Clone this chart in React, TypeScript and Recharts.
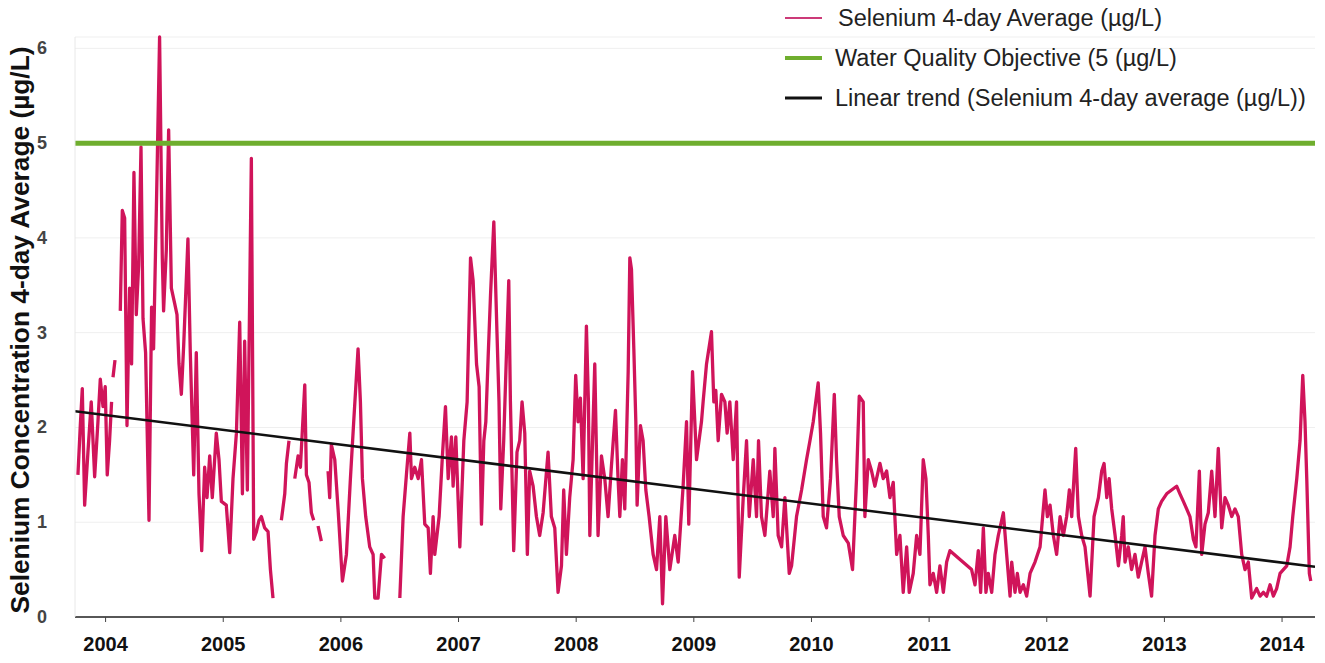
import { LineChart, Line, XAxis, YAxis, CartesianGrid, Legend } from 'recharts';

// 4-day average sample dates (decimal years), null values mark gaps in the record
const seleniumDates = [
	2003.765, 2003.785, 2003.802, 2003.822, 2003.85, 2003.878, 2003.907, 2003.935, 2003.955, 2003.978,
	2003.997, 2004.014, 2004.034, 2004.051, 2004.057, 2004.063, 2004.08, 2004.1, 2004.125, 2004.142,
	2004.162, 2004.182, 2004.204, 2004.221, 2004.241, 2004.261, 2004.281, 2004.301, 2004.318, 2004.34,
	2004.369, 2004.391, 2004.408, 2004.431, 2004.459, 2004.482, 2004.493, 2004.516, 2004.536, 2004.559,
	2004.587, 2004.607, 2004.624, 2004.644, 2004.664, 2004.7, 2004.72, 2004.749, 2004.771, 2004.794,
	2004.817, 2004.842, 2004.862, 2004.885, 2004.907, 2004.941, 2004.964, 2004.984, 2005.026, 2005.055,
	2005.083, 2005.112, 2005.14, 2005.163, 2005.182, 2005.205, 2005.239, 2005.259, 2005.282, 2005.304,
	2005.324, 2005.352, 2005.381, 2005.401, 2005.423, 2005.46, 2005.494, 2005.523, 2005.537, 2005.559,
	2005.585, 2005.608, 2005.636, 2005.656, 2005.693, 2005.707, 2005.729, 2005.749, 2005.769, 2005.79,
	2005.806, 2005.834, 2005.86, 2005.891, 2005.905, 2005.919, 2005.948, 2005.976, 2006.013, 2006.047,
	2006.081, 2006.109, 2006.146, 2006.166, 2006.183, 2006.211, 2006.245, 2006.274, 2006.288, 2006.316,
	2006.345, 2006.373, 2006.44, 2006.501, 2006.529, 2006.557, 2006.586, 2006.6, 2006.628, 2006.657,
	2006.685, 2006.713, 2006.742, 2006.761, 2006.784, 2006.798, 2006.835, 2006.863, 2006.889, 2006.912,
	2006.94, 2006.954, 2006.977, 2007.011, 2007.045, 2007.073, 2007.102, 2007.124, 2007.153, 2007.175,
	2007.195, 2007.215, 2007.232, 2007.252, 2007.272, 2007.3, 2007.327, 2007.344, 2007.359, 2007.384,
	2007.427, 2007.441, 2007.469, 2007.497, 2007.52, 2007.54, 2007.563, 2007.585, 2007.605, 2007.634,
	2007.662, 2007.69, 2007.719, 2007.761, 2007.789, 2007.818, 2007.846, 2007.875, 2007.894, 2007.917,
	2007.945, 2007.974, 2007.996, 2008.016, 2008.036, 2008.059, 2008.087, 2008.104, 2008.116, 2008.158,
	2008.186, 2008.215, 2008.243, 2008.271, 2008.3, 2008.334, 2008.356, 2008.371, 2008.393, 2008.413,
	2008.442, 2008.456, 2008.47, 2008.49, 2008.507, 2008.518, 2008.546, 2008.569, 2008.592, 2008.62,
	2008.654, 2008.683, 2008.711, 2008.734, 2008.762, 2008.796, 2008.838, 2008.867, 2008.909, 2008.938,
	2008.957, 2008.989, 2009.023, 2009.065, 2009.079, 2009.108, 2009.15, 2009.17, 2009.187, 2009.207,
	2009.235, 2009.264, 2009.283, 2009.306, 2009.335, 2009.363, 2009.386, 2009.42, 2009.448, 2009.471,
	2009.505, 2009.533, 2009.55, 2009.575, 2009.604, 2009.646, 2009.675, 2009.689, 2009.717, 2009.746,
	2009.774, 2009.811, 2009.831, 2009.873, 2009.916, 2009.958, 2009.987, 2010.015, 2010.057, 2010.077,
	2010.1, 2010.128, 2010.162, 2010.194, 2010.213, 2010.236, 2010.27, 2010.313, 2010.349, 2010.383,
	2010.406, 2010.44, 2010.454, 2010.483, 2010.511, 2010.539, 2010.582, 2010.61, 2010.639, 2010.667,
	2010.695, 2010.724, 2010.752, 2010.78, 2010.809, 2010.831, 2010.865, 2010.894, 2010.922, 2010.95,
	2010.973, 2010.993, 2011.007, 2011.035, 2011.064, 2011.092, 2011.121, 2011.149, 2011.177, 2011.361,
	2011.39, 2011.418, 2011.438, 2011.461, 2011.483, 2011.503, 2011.532, 2011.56, 2011.588, 2011.631,
	2011.659, 2011.688, 2011.702, 2011.73, 2011.75, 2011.773, 2011.801, 2011.829, 2011.858, 2011.9,
	2011.943, 2011.965, 2011.985, 2012.005, 2012.028, 2012.056, 2012.084, 2012.113, 2012.141, 2012.169,
	2012.192, 2012.212, 2012.246, 2012.269, 2012.297, 2012.325, 2012.368, 2012.402, 2012.439, 2012.467,
	2012.487, 2012.51, 2012.53, 2012.552, 2012.581, 2012.609, 2012.637, 2012.65, 2012.665, 2012.693,
	2012.721, 2012.75, 2012.778, 2012.806, 2012.835, 2012.863, 2012.891, 2012.92, 2012.948, 2012.976,
	2013.019, 2013.061, 2013.104, 2013.132, 2013.161, 2013.189, 2013.217, 2013.246, 2013.268, 2013.297,
	2013.317, 2013.345, 2013.373, 2013.402, 2013.43, 2013.458, 2013.487, 2013.515, 2013.543, 2013.572,
	2013.6, 2013.628, 2013.657, 2013.685, 2013.713, 2013.742, 2013.784, 2013.813, 2013.841, 2013.869,
	2013.898, 2013.926, 2013.954, 2013.983, 2014.011, 2014.04, 2014.068, 2014.091, 2014.125, 2014.153,
	2014.176, 2014.195, 2014.21, 2014.232, 2014.244,
];

// Selenium 4-day average (µg/L)
const seleniumValues = [
	1.5, 2.02, 2.41, 1.18, 1.74, 2.27, 1.48, 2.06, 2.51, 2.22,
	2.43, 1.5, 1.86, 2.27, null, 2.53, 2.71, null, 3.23, 4.29,
	4.21, 2.02, 3.47, 2.67, 4.69, 3.19, 3.71, 4.96, 3.15, 2.79,
	1.02, 3.27, 2.83, 4.27, 6.12, 3.79, 3.23, 3.87, 5.14, 3.47,
	3.31, 3.19, 2.67, 2.35, 2.87, 3.99, 2.79, 1.5, 2.79, 1.3,
	0.7, 1.58, 1.26, 1.7, 1.26, 1.94, 1.66, 1.22, 1.18, 0.68,
	1.46, 1.94, 3.11, 1.3, 2.91, 1.34, 4.84, 0.82, 0.9, 1.02,
	1.06, 0.94, 0.9, 0.5, 0.2, null, 1.02, 1.3, 1.62, 1.86,
	null, 1.46, 1.7, 1.58, 2.45, 1.5, 1.42, 1.1, 1.02, null,
	0.96, 0.8, null, 1.54, 1.26, 1.82, 1.66, 1.14, 0.38, 0.66,
	1.46, 2.06, 2.83, 2.27, 1.46, 1.06, 0.74, 0.66, 0.2, 0.2,
	0.66, 0.62, null, 0.2, 1.06, 1.5, 1.94, 1.46, 1.58, 1.46,
	1.66, 0.98, 0.94, 0.46, 1.06, 0.66, 1.06, 1.7, 2.22, 1.46,
	1.9, 1.38, 1.9, 0.74, 1.86, 2.27, 3.79, 3.55, 2.67, 2.43,
	0.98, 1.86, 2.06, 2.75, 3.4, 4.17, 2.99, 2.27, 1.14, 1.86,
	3.55, 2.27, 0.7, 1.74, 1.86, 2.27, 1.94, 0.66, 1.54, 1.38,
	1.06, 0.86, 1.1, 1.74, 1.06, 0.94, 0.26, 0.54, 1.34, 0.66,
	1.26, 1.66, 2.55, 2.06, 2.31, 1.46, 3.07, 2.27, 0.86, 2.67,
	0.86, 1.7, 1.46, 1.06, 1.6, 2.18, 1.46, 1.06, 1.66, 1.14,
	2.59, 3.79, 3.67, 2.83, 2.06, 1.18, 2.02, 1.86, 1.34, 1.06,
	0.66, 0.5, 1.06, 0.14, 1.06, 0.5, 0.86, 0.58, 1.38, 2.06,
	0.98, 2.59, 1.66, 2.06, 2.27, 2.67, 3.01, 2.27, 2.39, 1.86,
	2.35, 2.27, 1.94, 2.27, 1.66, 2.27, 0.42, 1.26, 1.86, 1.06,
	1.66, 1.06, 1.86, 1.06, 0.86, 1.54, 1.06, 1.78, 0.86, 0.74,
	1.26, 0.46, 0.54, 1.06, 1.34, 1.66, 1.86, 2.06, 2.47, 1.94,
	1.06, 0.94, 1.46, 2.35, 1.66, 1.06, 0.86, 0.78, 0.5, 1.46,
	2.33, 2.27, 1.06, 1.66, 1.54, 1.38, 1.62, 1.46, 1.54, 1.26,
	1.42, 0.66, 0.86, 0.26, 0.74, 0.26, 0.46, 0.86, 0.66, 1.66,
	1.46, 0.86, 0.34, 0.46, 0.26, 0.54, 0.26, 0.58, 0.7, 0.5,
	0.34, 0.7, 0.26, 0.94, 0.26, 0.46, 0.26, 0.66, 0.86, 1.1,
	0.66, 0.22, 0.58, 0.26, 0.46, 0.26, 0.34, 0.22, 0.46, 0.58,
	0.74, 1.06, 1.34, 1.06, 1.18, 0.86, 0.66, 1.06, 0.86, 1.06,
	1.34, 1.06, 1.78, 1.06, 0.86, 0.74, 0.22, 1.06, 1.26, 1.54,
	1.62, 1.26, 1.46, 1.14, 0.86, 0.54, 0.86, 1.06, 0.58, 0.74,
	0.5, 0.66, 0.42, 0.58, 0.74, 0.46, 0.22, 0.86, 1.14, 1.22,
	1.3, 1.34, 1.38, 1.3, 1.22, 1.14, 1.06, 0.82, 0.74, 1.54,
	0.66, 0.98, 1.1, 1.54, 1.06, 1.78, 0.94, 1.26, 1.18, 1.06,
	1.14, 1.06, 0.66, 0.5, 0.58, 0.2, 0.3, 0.22, 0.26, 0.22,
	0.34, 0.22, 0.3, 0.46, 0.5, 0.54, 0.74, 1.06, 1.46, 1.86,
	2.55, 2.06, 1.46, 0.46, 0.38,
];

const objectiveValue = 5;
const trendDates = [2003.74, 2014.28];
const trendValues = [2.17, 0.53];
const yearTicks = [2004, 2005, 2006, 2007, 2008, 2009, 2010, 2011, 2012, 2013, 2014];
const valueTicks = [0, 1, 2, 3, 4, 5, 6];

const seleniumData = seleniumDates.map((date, i) => ({ date, value: seleniumValues[i] }));
const objectiveData = trendDates.map((date) => ({ date, value: objectiveValue }));
const trendData = trendDates.map((date, i) => ({ date, value: trendValues[i] }));

const FONT = '"Liberation Sans", Arial, sans-serif';

const legendItems = [
	{ label: 'Selenium 4-day Average (µg/L)', color: '#cc3a78', width: 2, textX: 63 },
	{ label: 'Water Quality Objective (5 (µg/L)', color: '#6fae2e', width: 4, textX: 60 },
	{ label: 'Linear trend (Selenium 4-day average (µg/L))', color: '#111111', width: 3, textX: 60 },
];

const renderLegend = () => (
	<svg width={550} height={120}>
		{legendItems.map((item, i) => (
			<g key={item.label}>
				<line x1={10} x2={47} y1={18 + i * 40} y2={18 + i * 40} stroke={item.color} strokeWidth={item.width} />
				<text
					x={item.textX}
					y={18 + i * 40}
					dominantBaseline='central'
					fontFamily={FONT}
					fontSize={23.5}
					fill='#222'
				>
					{item.label}
				</text>
			</g>
		))}
	</svg>
);

const YearTick = (props: any) => {
	const { x, y, payload } = props;
	return (
		<text x={x} y={y + 27} textAnchor='middle' fontFamily={FONT} fontWeight='bold' fontSize={20} fill='#111'>
			{payload.value}
		</text>
	);
};

const ValueTick = (props: any) => {
	const { y, payload } = props;
	return (
		<text x={42} y={y} textAnchor='middle' dominantBaseline='central' fontFamily={FONT} fontWeight='bold' fontSize={18} fill='#444'>
			{payload.value}
		</text>
	);
};

const YTitle = () => (
	<text
		x={20}
		y={330}
		transform='rotate(-90, 20, 330)'
		textAnchor='middle'
		dominantBaseline='central'
		fontFamily={FONT}
		fontWeight='bold'
		fontSize={26.3}
		fill='#111'
	>
		Selenium Concentration 4-day Average (µg/L)
	</text>
);

const App = () => {
	return (
		<div style={{ position: 'absolute', left: 0, top: 0, background: '#fff' }}>
			<LineChart width={1325} height={663} margin={{ top: 37, right: 10, left: 0, bottom: 6 }}>
				<CartesianGrid vertical={false} stroke='#efefef' />
				<XAxis
					dataKey='date'
					type='number'
					domain={[2003.74, 2014.28]}
					ticks={yearTicks}
					allowDataOverflow
					height={40}
					axisLine={{ stroke: '#222', strokeWidth: 1.5 }}
					tickLine={{ stroke: '#444' }}
					tickSize={5}
					tick={<YearTick />}
				/>
				<YAxis
					type='number'
					domain={[0, 6]}
					ticks={valueTicks}
					width={75}
					axisLine={{ stroke: '#e8e8e8' }}
					tickLine={false}
					tick={<ValueTick />}
					label={<YTitle />}
				/>
				<Line
					data={seleniumData}
					dataKey='value'
					stroke='#d0145a'
					strokeWidth={3.3}
					dot={false}
					strokeLinejoin='round'
					isAnimationActive={false}
				/>
				<Line data={objectiveData} dataKey='value' stroke='#6fae2e' strokeWidth={5} dot={false} isAnimationActive={false} />
				<Line data={trendData} dataKey='value' stroke='#111' strokeWidth={2.5} dot={false} isAnimationActive={false} />
				<Legend
					layout='horizontal'
					verticalAlign='middle'
					align='center'
					wrapperStyle={{ top: 0, left: 775, width: 550, height: 120 }}
					content={renderLegend}
				/>
			</LineChart>
		</div>
	);
};

export default App;
